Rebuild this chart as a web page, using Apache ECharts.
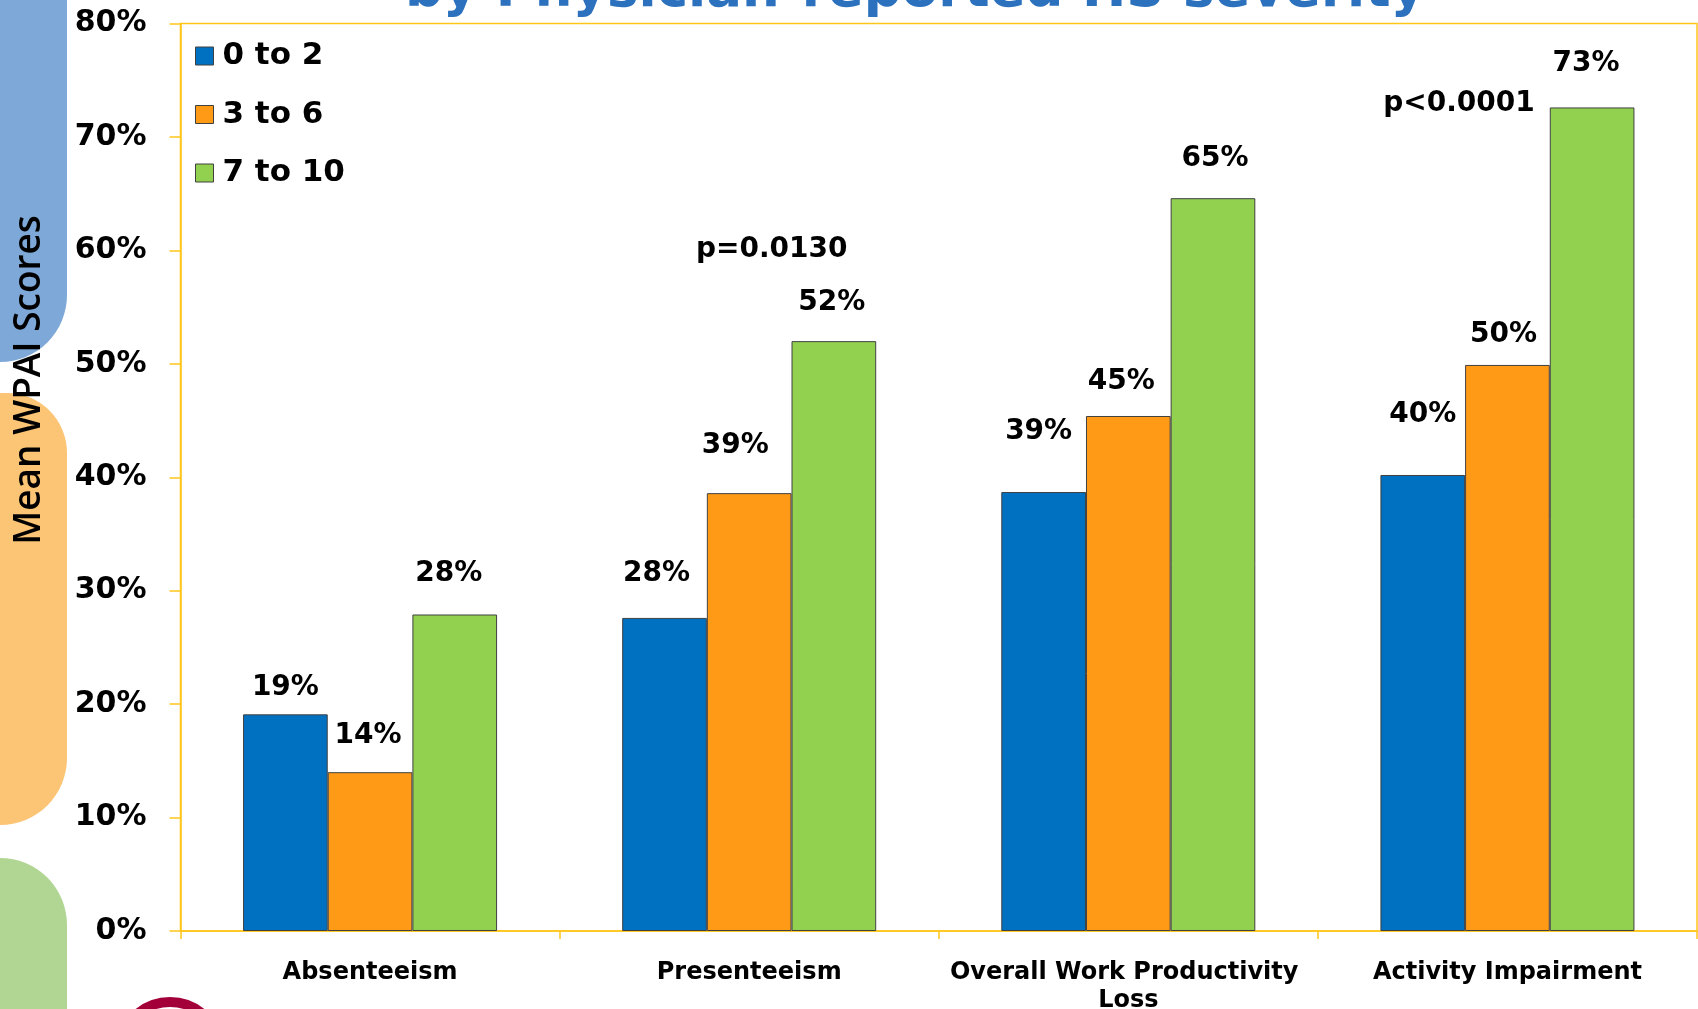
<!DOCTYPE html>
<html>
<head>
<meta charset="utf-8">
<title>Mean WPAI Scores by Physician-reported HS severity</title>
<script src="https://cdn.jsdelivr.net/npm/echarts@6/dist/echarts.min.js"></script>
<style>
  html, body { margin: 0; padding: 0; background: #ffffff; }
  #chart { width: 1698px; height: 1009px; }
</style>
</head>
<body>
<div id="chart"></div>
<script>
// WPAI domains on the category axis
const categories = ['Absenteeism', 'Presenteeism', 'Overall Work Productivity Loss', 'Activity Impairment'];
// physician-reported severity groups
const groupNames = ['0 to 2', '3 to 6', '7 to 10'];
// mean WPAI scores (%) per severity group
const severity0to2 = [19.1, 27.6, 38.7, 40.2];
const severity3to6 = [14.0, 38.6, 45.4, 49.9];
const severity7to10 = [27.9, 52.0, 64.6, 72.6];
// value axis range (%)
const yMin = 0, yMax = 80, yStep = 10;
// significance notes
const pNotes = ['p=0.0130', 'p<0.0001'];

// label placement tweaks (px): lift of label centre above bar top, horizontal shift
const labelLift = [[29, 46, 62, 62], [38, 49, 36, 32], [43, 40, 41, 46]];
const labelShift = [[0, -8, -5, 0], [-2, -14, -7, -4], [-6, -2, 2, -6]];

const colors = ['#0070C0', '#FF9A17', '#92D050'];
const gold = '#FFC61A';
const boldFont = "'DejaVu Sans', Verdana, sans-serif";
const labelSize = 28;

const chart = echarts.init(document.getElementById('chart'), null, { renderer: 'canvas' });

const seriesValues = [severity0to2, severity3to6, severity7to10];
const series = seriesValues.map((vals, s) => ({
  name: groupNames[s],
  type: 'bar',
  barGap: '0%',
  barCategoryGap: '33%',
  itemStyle: { color: colors[s], borderColor: '#404040', borderWidth: 1 },
  label: {
    show: true,
    position: 'top',
    fontFamily: boldFont,
    fontWeight: 'bold',
    fontSize: labelSize,
    color: '#000',
    formatter: p => Math.round(p.value) + '%'
  },
  data: vals.map((v, i) => ({
    value: v,
    label: { distance: labelLift[s][i] - labelSize / 2 - 2, offset: [labelShift[s][i], 0] }
  }))
}));

const option = {
  backgroundColor: '#ffffff',
  animation: false,
  grid: {
    left: 180.5, right: 1, top: 23.5, bottom: 78,
    outerBoundsMode: 'none', containLabel: false,
    show: true, borderColor: gold, borderWidth: 1.5, backgroundColor: 'transparent'
  },
  legend: {
    orient: 'vertical',
    left: 195, top: 40.5,
    padding: 0,
    itemWidth: 18, itemHeight: 18, itemGap: 27.5,
    icon: 'rect',
    itemStyle: { borderColor: '#404040', borderWidth: 1 },
    textStyle: {
      fontFamily: boldFont, fontWeight: 'bold', fontSize: 31, color: '#000',
      lineHeight: 30, padding: [0, 0, 0, 4]
    },
    data: groupNames
  },
  xAxis: {
    type: 'category',
    data: categories,
    axisLine: { lineStyle: { color: gold, width: 1.5 } },
    axisTick: { show: true, length: 8, interval: 0, lineStyle: { color: gold, width: 1.5 } },
    axisLabel: {
      interval: 0, margin: 28,
      fontFamily: boldFont, fontWeight: 'bold', fontSize: 24, lineHeight: 28, color: '#000',
      width: 370, overflow: 'break', align: 'center'
    }
  },
  yAxis: {
    type: 'value',
    min: yMin, max: yMax, interval: yStep,
    axisLine: { show: true, lineStyle: { color: gold, width: 1.5 } },
    axisTick: { show: true, length: 11, lineStyle: { color: gold, width: 1.5 } },
    splitLine: { show: false },
    axisLabel: {
      margin: 34,
      padding: [4, 0, 0, 0],
      formatter: '{value}%',
      fontFamily: boldFont, fontWeight: 'bold', fontSize: 30, color: '#000'
    }
  },
  series: series,
  graphic: [
    // slide decoration down the left edge
    { type: 'rect', z: -10, shape: { x: 0, y: -100, width: 67, height: 462, r: [0, 0, 67, 0] }, style: { fill: '#7DA8D7' } },
    { type: 'rect', z: -10, shape: { x: 0, y: 393, width: 67, height: 432, r: [0, 60, 67, 0] }, style: { fill: '#FBC575' } },
    { type: 'rect', z: -10, shape: { x: 0, y: 858, width: 67, height: 300, r: [0, 67, 0, 0] }, style: { fill: '#B1D693' } },
    { type: 'circle', z: -10, shape: { cx: 170, cy: 1052, r: 50 }, style: { fill: '#ffffff', stroke: '#A3003A', lineWidth: 10 } },
    // slide title (runs off the top edge)
    {
      type: 'text', z: -5, x: 915, y: -8,
      style: {
        text: 'by Physician-reported HS severity',
        fill: '#2B71BD', fontFamily: boldFont, fontWeight: 'bold', fontSize: 53,
        align: 'center', verticalAlign: 'middle'
      }
    },
    // value axis title
    {
      type: 'text', x: 29, y: 380, rotation: Math.PI / 2,
      style: {
        text: 'Mean WPAI Scores',
        fill: '#000', fontFamily: "'Open Sans', sans-serif", fontWeight: 600, fontSize: 37,
        align: 'center', verticalAlign: 'middle'
      }
    },
    // significance notes
    {
      type: 'text', x: 771.7, y: 249.5,
      style: { text: pNotes[0], fill: '#000', fontFamily: boldFont, fontWeight: 'bold', fontSize: 28, align: 'center', verticalAlign: 'middle' }
    },
    {
      type: 'text', x: 1459, y: 104,
      style: { text: pNotes[1], fill: '#000', fontFamily: boldFont, fontWeight: 'bold', fontSize: 28, align: 'center', verticalAlign: 'middle' }
    }
  ]
};

chart.setOption(option);
</script>
</body>
</html>
